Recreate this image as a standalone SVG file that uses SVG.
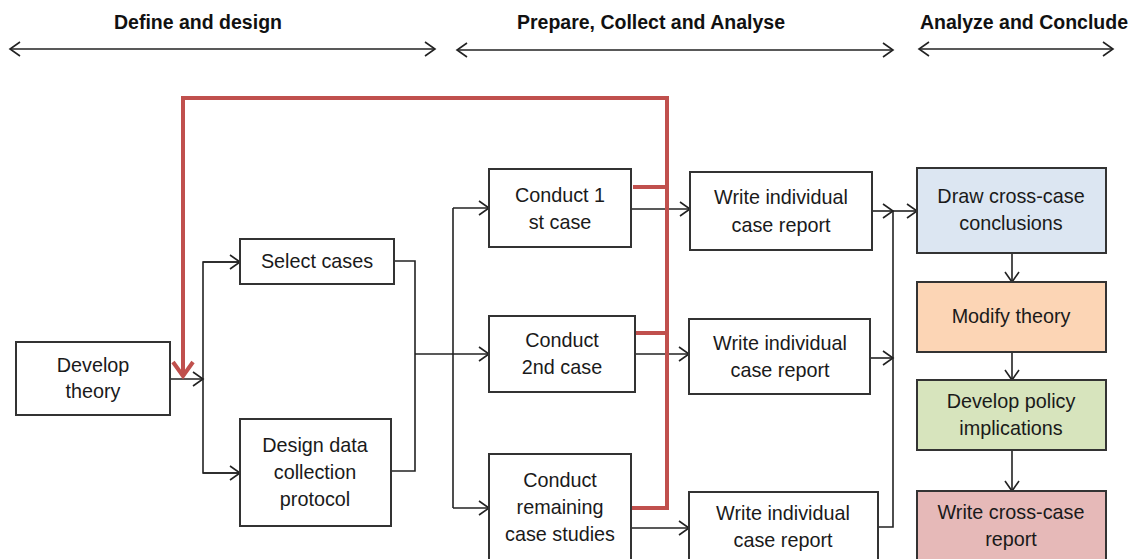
<svg xmlns="http://www.w3.org/2000/svg" width="1134" height="559" viewBox="0 0 1134 559">
<style>
.box{stroke:#333;stroke-width:2;fill:#fff}
.t{font-family:"Liberation Sans",Arial,sans-serif;font-size:19.8px;fill:#1a1a1a;text-anchor:middle}
.h{font-family:"Liberation Sans",Arial,sans-serif;font-size:19.5px;font-weight:bold;fill:#111;text-anchor:middle}
.c{stroke:#222;stroke-width:1.6;fill:none}
.r{stroke:#c0504d;stroke-width:4;fill:none;stroke-linejoin:miter}
</style>
<defs>
<marker id="a" markerUnits="userSpaceOnUse" markerWidth="14" markerHeight="16" refX="11" refY="8" orient="auto">
<path d="M1,1 L11,8 L1,15" fill="none" stroke="#222" stroke-width="1.6"/>
</marker>
<marker id="a2" markerUnits="userSpaceOnUse" markerWidth="14" markerHeight="16" refX="11" refY="8" orient="auto-start-reverse">
<path d="M1,1 L11,8 L1,15" fill="none" stroke="#222" stroke-width="1.6"/>
</marker>
<marker id="ra" markerUnits="userSpaceOnUse" markerWidth="20" markerHeight="24" refX="16" refY="12" orient="auto">
<path d="M2,2 L16,12 L2,22" fill="none" stroke="#c0504d" stroke-width="4"/>
</marker>
</defs>
<g id="headers">
<text class="h" x="198" y="29">Define and design</text>
<line class="c" x1="10" y1="49" x2="435" y2="49" marker-start="url(#a2)" marker-end="url(#a2)"/>
<text class="h" x="651" y="29">Prepare, Collect and Analyse</text>
<line class="c" x1="457" y1="50" x2="893" y2="50" marker-start="url(#a2)" marker-end="url(#a2)"/>
<text class="h" x="1024" y="29">Analyze and Conclude</text>
<line class="c" x1="919" y1="49" x2="1113" y2="49" marker-start="url(#a2)" marker-end="url(#a2)"/>
</g>
<g id="connectors">
<path class="c" d="M170,379 H203" marker-end="url(#a)"/>
<path class="c" d="M240,262 H203 V473 H240" />
<path class="c" d="M203,262 H240" marker-end="url(#a)"/>
<path class="c" d="M203,473 H240" marker-end="url(#a)"/>
<path class="c" d="M394,261 H415 V471 H391"/>
<path class="c" d="M415,354 H489" marker-end="url(#a)"/>
<path class="c" d="M453,208 V508"/>
<path class="c" d="M453,208 H489" marker-end="url(#a)"/>
<path class="c" d="M453,508 H489" marker-end="url(#a)"/>
<path class="c" d="M631,209 H690" marker-end="url(#a)"/>
<path class="c" d="M635,354 H689" marker-end="url(#a)"/>
<path class="c" d="M631,528 H689" marker-end="url(#a)"/>
<path class="c" d="M872,211 H893" marker-end="url(#a)"/>
<path class="c" d="M893,211 H917" marker-end="url(#a)"/>
<path class="c" d="M870,358 H893" marker-end="url(#a)"/>
<path class="c" d="M878,527 H893 V211"/>
<path class="c" d="M1012,253 V282" marker-end="url(#a)"/>
<path class="c" d="M1012,352 V380" marker-end="url(#a)"/>
<path class="c" d="M1012,450 V491" marker-end="url(#a)"/>
</g>
<g id="feedback">
<path class="r" d="M183,376 V98 H667 V508 H631"/>
<path class="r" d="M183,360 V376" marker-end="url(#ra)"/>
<path class="r" d="M633,187 H667"/>
<path class="r" d="M635,333 H667"/>
</g>
<g id="develop-theory">
<rect class="box" x="16" y="342" width="154" height="73"/>
<text class="t" x="93" y="372">Develop</text>
<text class="t" x="93" y="398">theory</text>
</g>
<g id="select-cases">
<rect class="box" x="240" y="239" width="154" height="45"/>
<text class="t" x="317" y="268">Select cases</text>
</g>
<g id="design-protocol">
<rect class="box" x="240" y="419" width="151" height="107"/>
<text class="t" x="315" y="452">Design data</text>
<text class="t" x="315" y="479">collection</text>
<text class="t" x="315" y="506">protocol</text>
</g>
<g id="conduct-1">
<rect class="box" x="489" y="169" width="142" height="78"/>
<text class="t" x="560" y="202">Conduct 1</text>
<text class="t" x="560" y="229">st case</text>
</g>
<g id="conduct-2">
<rect class="box" x="489" y="316" width="146" height="76"/>
<text class="t" x="562" y="347">Conduct</text>
<text class="t" x="562" y="374">2nd case</text>
</g>
<g id="conduct-remaining">
<rect class="box" x="489" y="454" width="142" height="110"/>
<text class="t" x="560" y="487">Conduct</text>
<text class="t" x="560" y="514">remaining</text>
<text class="t" x="560" y="541">case studies</text>
</g>
<g id="write-1">
<rect class="box" x="690" y="172" width="182" height="78"/>
<text class="t" x="781" y="204">Write individual</text>
<text class="t" x="781" y="232">case report</text>
</g>
<g id="write-2">
<rect class="box" x="689" y="319" width="181" height="75"/>
<text class="t" x="780" y="350">Write individual</text>
<text class="t" x="780" y="377">case report</text>
</g>
<g id="write-3">
<rect class="box" x="689" y="492" width="189" height="72"/>
<text class="t" x="783" y="520">Write individual</text>
<text class="t" x="783" y="547">case report</text>
</g>
<g id="draw-conclusions">
<rect class="box" x="917" y="168" width="189" height="85" style="fill:#dce6f2"/>
<text class="t" x="1011" y="203">Draw cross-case</text>
<text class="t" x="1011" y="230">conclusions</text>
</g>
<g id="modify-theory">
<rect class="box" x="917" y="282" width="189" height="70" style="fill:#fcd5b5"/>
<text class="t" x="1011" y="323">Modify theory</text>
</g>
<g id="policy">
<rect class="box" x="917" y="380" width="189" height="70" style="fill:#d7e4bd"/>
<text class="t" x="1011" y="408">Develop policy</text>
<text class="t" x="1011" y="435">implications</text>
</g>
<g id="cross-report">
<rect class="box" x="917" y="491" width="189" height="73" style="fill:#e6b9b8"/>
<text class="t" x="1011" y="519">Write cross-case</text>
<text class="t" x="1011" y="546">report</text>
</g>
</svg>
